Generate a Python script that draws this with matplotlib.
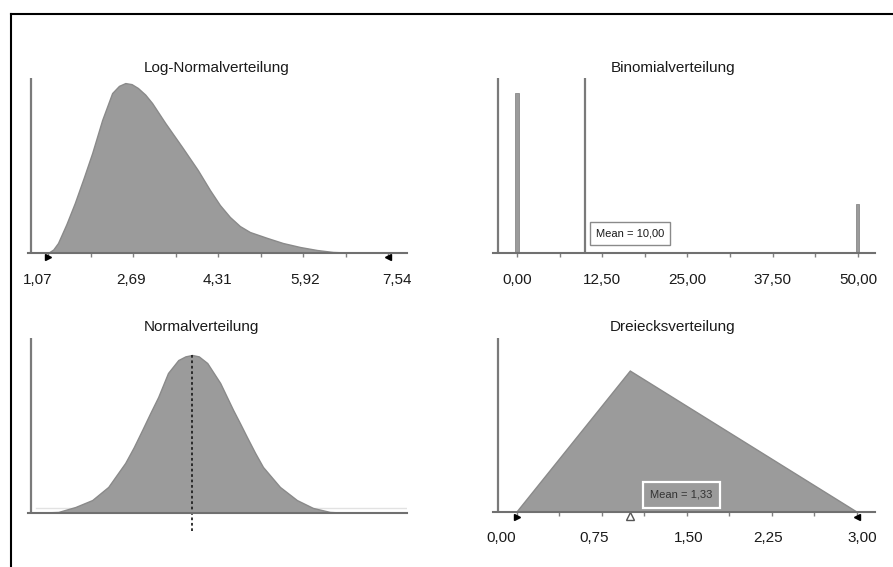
import matplotlib
matplotlib.use("Agg")
import matplotlib.pyplot as plt
from matplotlib.lines import Line2D
from matplotlib.transforms import ScaledTranslation, blended_transform_factory

plt.rcParams['font.family'] = ['Liberation Sans', 'DejaVu Sans']

# ---------------- data ----------------
titles = ["Log-Normalverteilung", "Binomialverteilung", "Normalverteilung", "Dreiecksverteilung"]

# Log-normal density (relative height)
ln_x = [1.07, 1.17, 1.26, 1.42, 1.58, 1.75, 1.91, 2.10, 2.29, 2.42, 2.54, 2.66, 2.78, 2.92, 3.05,
        3.30, 3.62, 3.92, 4.15, 4.34, 4.53, 4.72, 4.91, 5.24, 5.54, 5.87, 6.19, 6.49, 7.00, 7.54]
ln_y = [0.0, 0.02, 0.057, 0.165, 0.286, 0.43, 0.571, 0.76, 0.914, 0.955, 0.971, 0.965, 0.943, 0.905, 0.857,
        0.743, 0.606, 0.474, 0.36, 0.274, 0.206, 0.154, 0.12, 0.086, 0.057, 0.034, 0.017, 0.006, 0.0, 0.0]
ln_ticks = [1.07, 2.69, 4.31, 5.92, 7.54]
ln_tick_labels = ["1,07", "2,69", "4,31", "5,92", "7,54"]
ln_minor = [1.88, 3.50, 5.12, 6.73]

# Binomial bars
bin_x = [0, 50]
bin_y = [0.914, 0.28]
bin_mean = 10.0
bin_ticks = [0, 12.5, 25, 37.5, 50]
bin_tick_labels = ["0,00", "12,50", "25,00", "37,50", "50,00"]
bin_minor = [6.25, 18.75, 31.25, 43.75]

# Normal density (x in standard deviations)
nv_x = [-3.68, -3.0, -2.62, -2.24, -1.88, -1.50, -1.31, -1.12, -0.94, -0.76, -0.54, -0.31, -0.15, 0.0,
        0.15, 0.34, 0.63, 0.92, 1.08, 1.23, 1.41, 1.59, 1.97, 2.35, 2.71, 3.09, 3.6, 4.82]
nv_y = [0.0, 0.006, 0.034, 0.074, 0.149, 0.286, 0.375, 0.474, 0.57, 0.663, 0.80, 0.874, 0.895, 0.903,
        0.895, 0.857, 0.743, 0.589, 0.51, 0.434, 0.345, 0.263, 0.149, 0.074, 0.029, 0.006, 0.0, 0.0]

# Triangular distribution
tri_x = [0.0, 1.0, 3.0]
tri_y = [0.0, 0.81, 0.0]
tri_mean = 1.33
tri_ticks = [0.0, 0.75, 1.50, 2.25, 3.00]
tri_tick_labels = ["0,00", "0,75", "1,50", "2,25", "3,00"]
tri_minor = [0.375, 1.125, 1.875, 2.625]

# ---------------- styling ----------------
W, H = 893, 567
fig = plt.figure(figsize=(W / 100, H / 100), dpi=100)
fig.patch.set_facecolor("white")

FILL = "#9b9b9b"
EDGE = "#8a8a8a"
AXC = "#7a7a7a"
TXT = "#1a1a1a"
FS_TITLE = 11
FS_TICK = 11

def make_ax(x0, x1, ytop, ybase, xlim):
    ax = fig.add_axes([x0 / W, 1 - ybase / H, (x1 - x0) / W, (ybase - ytop) / H])
    ax.set_xlim(*xlim)
    ax.set_ylim(0, 1)
    for s in ["top", "right", "left"]:
        ax.spines[s].set_visible(False)
    ax.spines["bottom"].set_color("#707070")
    ax.spines["bottom"].set_linewidth(1.5)
    ax.set_yticks([])
    ax.patch.set_alpha(0)
    ax.tick_params(axis="x", which="both", direction="out", length=3, width=1,
                   color="#808080", labelbottom=False)
    return ax

def put_labels(ax, ticks, labels, offsets, dy_px):
    tr = blended_transform_factory(ax.transData, ax.transAxes)
    for t, lab, off in zip(ticks, labels, offsets):
        ax.text(t, 0, lab, transform=tr + ScaledTranslation(off / 100, -dy_px / 100, fig.dpi_scale_trans),
                ha="center", va="center", fontsize=FS_TICK, color=TXT)

def fig_title(xc, yc, s):
    fig.text(xc / W, 1 - yc / H, s, ha="center", va="center", fontsize=FS_TITLE, color=TXT)

# ---- Log-Normal ----
ax1 = make_ax(28, 407, 78, 253, (0.689, 7.90))
ax1.fill_between(ln_x, ln_y, color=FILL, edgecolor=EDGE, linewidth=1.0)
ax1.axvline(0.746, color=AXC, lw=1.6)
ax1.set_xticks(ln_ticks)
ax1.set_xticks(ln_minor, minor=True)
put_labels(ax1, ln_ticks, ln_tick_labels, [-10, -2, -1, 2, 9], 27)
ax1.plot([ln_ticks[0]], [-0.025], marker=">", color="black", ms=5, clip_on=False)
ax1.plot([ln_ticks[-1]], [-0.025], marker="<", color="black", ms=5, clip_on=False)
fig_title(217, 68, titles[0])

# ---- Binomial ----
ax2 = make_ax(493, 875, 78, 253, (-3.52, 52.5))
ax2.bar(bin_x, bin_y, width=0.45, color=FILL, edgecolor=EDGE, linewidth=0.6)
ax2.axvline(-2.79, color=AXC, lw=1.6)
ax2.axvline(bin_mean, color=AXC, lw=1.6)
ax2.set_xticks(bin_ticks)
ax2.set_xticks(bin_minor, minor=True)
put_labels(ax2, bin_ticks, bin_tick_labels, [0, 0, 0, 0, 0], 27)
ax2.text(16.6, 0.111, "Mean = " + f"{bin_mean:.2f}".replace(".", ","), ha="center", va="center",
         fontsize=8, color=TXT,
         bbox=dict(boxstyle="square,pad=0.55", facecolor="white", edgecolor="#8a8a8a", linewidth=1))
fig_title(673, 68, titles[1])

# ---- Normal ----
ax3 = make_ax(28, 407, 338, 513, (-3.68, 4.82))
ax3.axhline(0.03, xmin=0.02, xmax=1.0, color="#e2e2e2", lw=1, zorder=0.5)
ax3.fill_between(nv_x, nv_y, color=FILL, edgecolor=EDGE, linewidth=1.0)
ax3.axvline(-3.61, color=AXC, lw=1.6)
ax3.set_xticks([])
ax3.plot([0, 0], [max(nv_y), -0.1], color="#222222", lw=1.3, ls=(0, (1.5, 1.5)), clip_on=False)
fig_title(201, 327, titles[2])

# ---- Triangular ----
ax4 = make_ax(493, 875, 338, 512, (-0.212, 3.16))
ax4.fill(tri_x, tri_y, color=FILL, edgecolor=EDGE, linewidth=1.0)
ax4.axvline(-0.168, color=AXC, lw=1.6)
ax4.set_xticks(tri_ticks)
ax4.set_xticks(tri_minor, minor=True)
put_labels(ax4, tri_ticks, tri_tick_labels, [-16, -8, 2, -4, 5], 26)
ax4.plot([tri_x[0]], [-0.03], marker=">", color="black", ms=5, clip_on=False)
ax4.plot([tri_x[-1]], [-0.03], marker="<", color="black", ms=5, clip_on=False)
ax4.plot([tri_x[1]], [-0.025], marker="^", mfc="white", mec="#555555", ms=6, mew=1, clip_on=False)
ax4.text(1.452, 0.098, "Mean = " + f"{tri_mean:.2f}".replace(".", ","), ha="center", va="center",
         fontsize=8, color="#333333",
         bbox=dict(boxstyle="square,pad=0.7", facecolor="none", edgecolor="white", linewidth=1.6))
fig_title(673, 327, titles[3])

# ---- figure border (top and left) ----
fig.add_artist(Line2D([11 / W, 11 / W], [0, 1 - 14 / H], color="black", lw=1.5, transform=fig.transFigure))
fig.add_artist(Line2D([11 / W, 1], [1 - 14 / H, 1 - 14 / H], color="black", lw=1.5, transform=fig.transFigure))

fig.savefig("out.png", dpi=100, facecolor="white")
